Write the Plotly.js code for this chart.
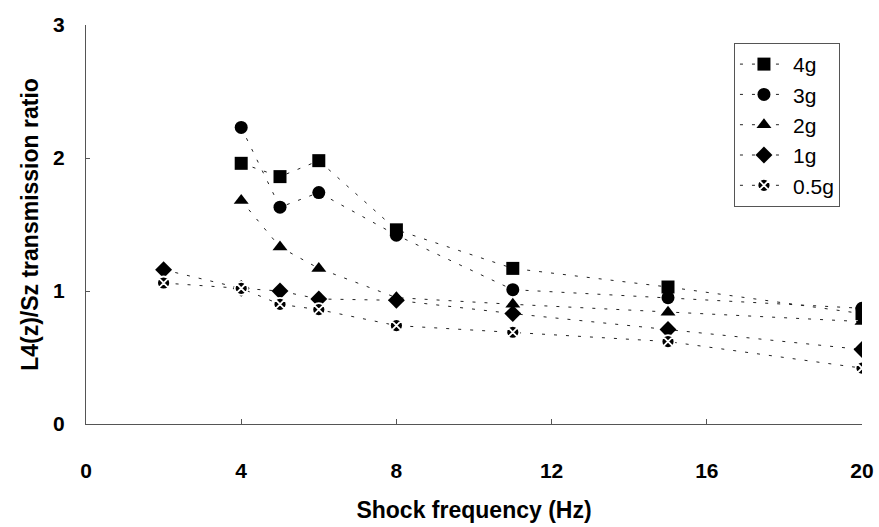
<!DOCTYPE html>
<html>
<head>
<meta charset="utf-8">
<script src="https://cdn.plot.ly/plotly-3.0.1.min.js"></script>
<style>html,body{margin:0;padding:0;background:#fff;}#chart{width:879px;height:527px;}</style>
</head>
<body>
<div id="chart"></div>
<script>
var seriesNames = ["4g", "3g", "2g", "1g", "0.5g"];
var freqHigh = [4, 5, 6, 8, 11, 15, 20];
var freqLow = [2, 4, 5, 6, 8, 11, 15, 20];
var ratio4g = [1.96, 1.86, 1.98, 1.46, 1.17, 1.03, 0.83];
var ratio3g = [2.23, 1.63, 1.74, 1.42, 1.01, 0.95, 0.87];
var ratio2g = [1.68, 1.33, 1.17, 0.95, 0.90, 0.84, 0.77];
var ratio1g = [1.16, 1.02, 1.00, 0.94, 0.93, 0.83, 0.71, 0.56];
var ratio05g = [1.06, 1.02, 0.90, 0.86, 0.74, 0.69, 0.62, 0.42];
var xTicks = [0, 4, 8, 12, 16, 20];
var yTicks = [0, 1, 2, 3];

var xs = [freqHigh, freqHigh, freqHigh, freqLow, freqLow];
var ys = [ratio4g, ratio3g, ratio2g, ratio1g, ratio05g];
var symbols = ["square", "circle", "triangle-up", "diamond", "circle-x"];
var traces = [];
for (var i = 0; i < seriesNames.length; i++) {
  traces.push({
    x: xs[i], y: ys[i], name: seriesNames[i], type: "scatter", mode: "lines+markers",
    legendgroup: "g" + i,
    line: {color: "#222", width: 1, dash: "3px,9px"},
    marker: {symbol: symbols[i], size: 13, color: "#000",
      line: {color: i === 4 ? "#fff" : "#000", width: i === 4 ? 1.8 : 0}}
  });
}
var fam = "Liberation Sans, Arial, sans-serif";
var layout = {
  width: 879, height: 527,
  margin: {l: 86, r: 17, t: 25, b: 103},
  paper_bgcolor: "#fff", plot_bgcolor: "#fff",
  showlegend: true,
  font: {family: fam, color: "#000"},
  xaxis: {
    range: [0, 20], tickvals: xTicks, ticktext: xTicks.map(String),
    showgrid: false, zeroline: false, showline: true, linecolor: "#555", linewidth: 1,
    ticks: "inside", ticklen: 5, tickcolor: "#555",
    ticklabelstandoff: 28,
    tickfont: {size: 21, family: fam, weight: "bold"},
    title: {text: "Shock frequency (Hz)", standoff: 20,
      font: {size: 23, family: fam, weight: "bold"}}
  },
  yaxis: {
    range: [0, 3], tickvals: yTicks, ticktext: yTicks.map(String),
    showgrid: false, zeroline: false, showline: true, linecolor: "#555", linewidth: 1,
    ticks: "inside", ticklen: 4, tickcolor: "#555",
    ticklabelstandoff: 16,
    tickfont: {size: 21, family: fam, weight: "bold"},
    title: {text: "L4(z)/Sz transmission ratio", standoff: 8,
      font: {size: 23, family: fam, weight: "bold"}}
  },
  legend: {
    x: 0.835, y: 0.955, xanchor: "left", yanchor: "top",
    bordercolor: "#555", borderwidth: 1, bgcolor: "#fff",
    tracegroupgap: 0, itemwidth: 48,
    font: {size: 21, family: fam}
  }
};
Plotly.newPlot("chart", traces, layout, {displayModeBar: false});
</script>
</body>
</html>
